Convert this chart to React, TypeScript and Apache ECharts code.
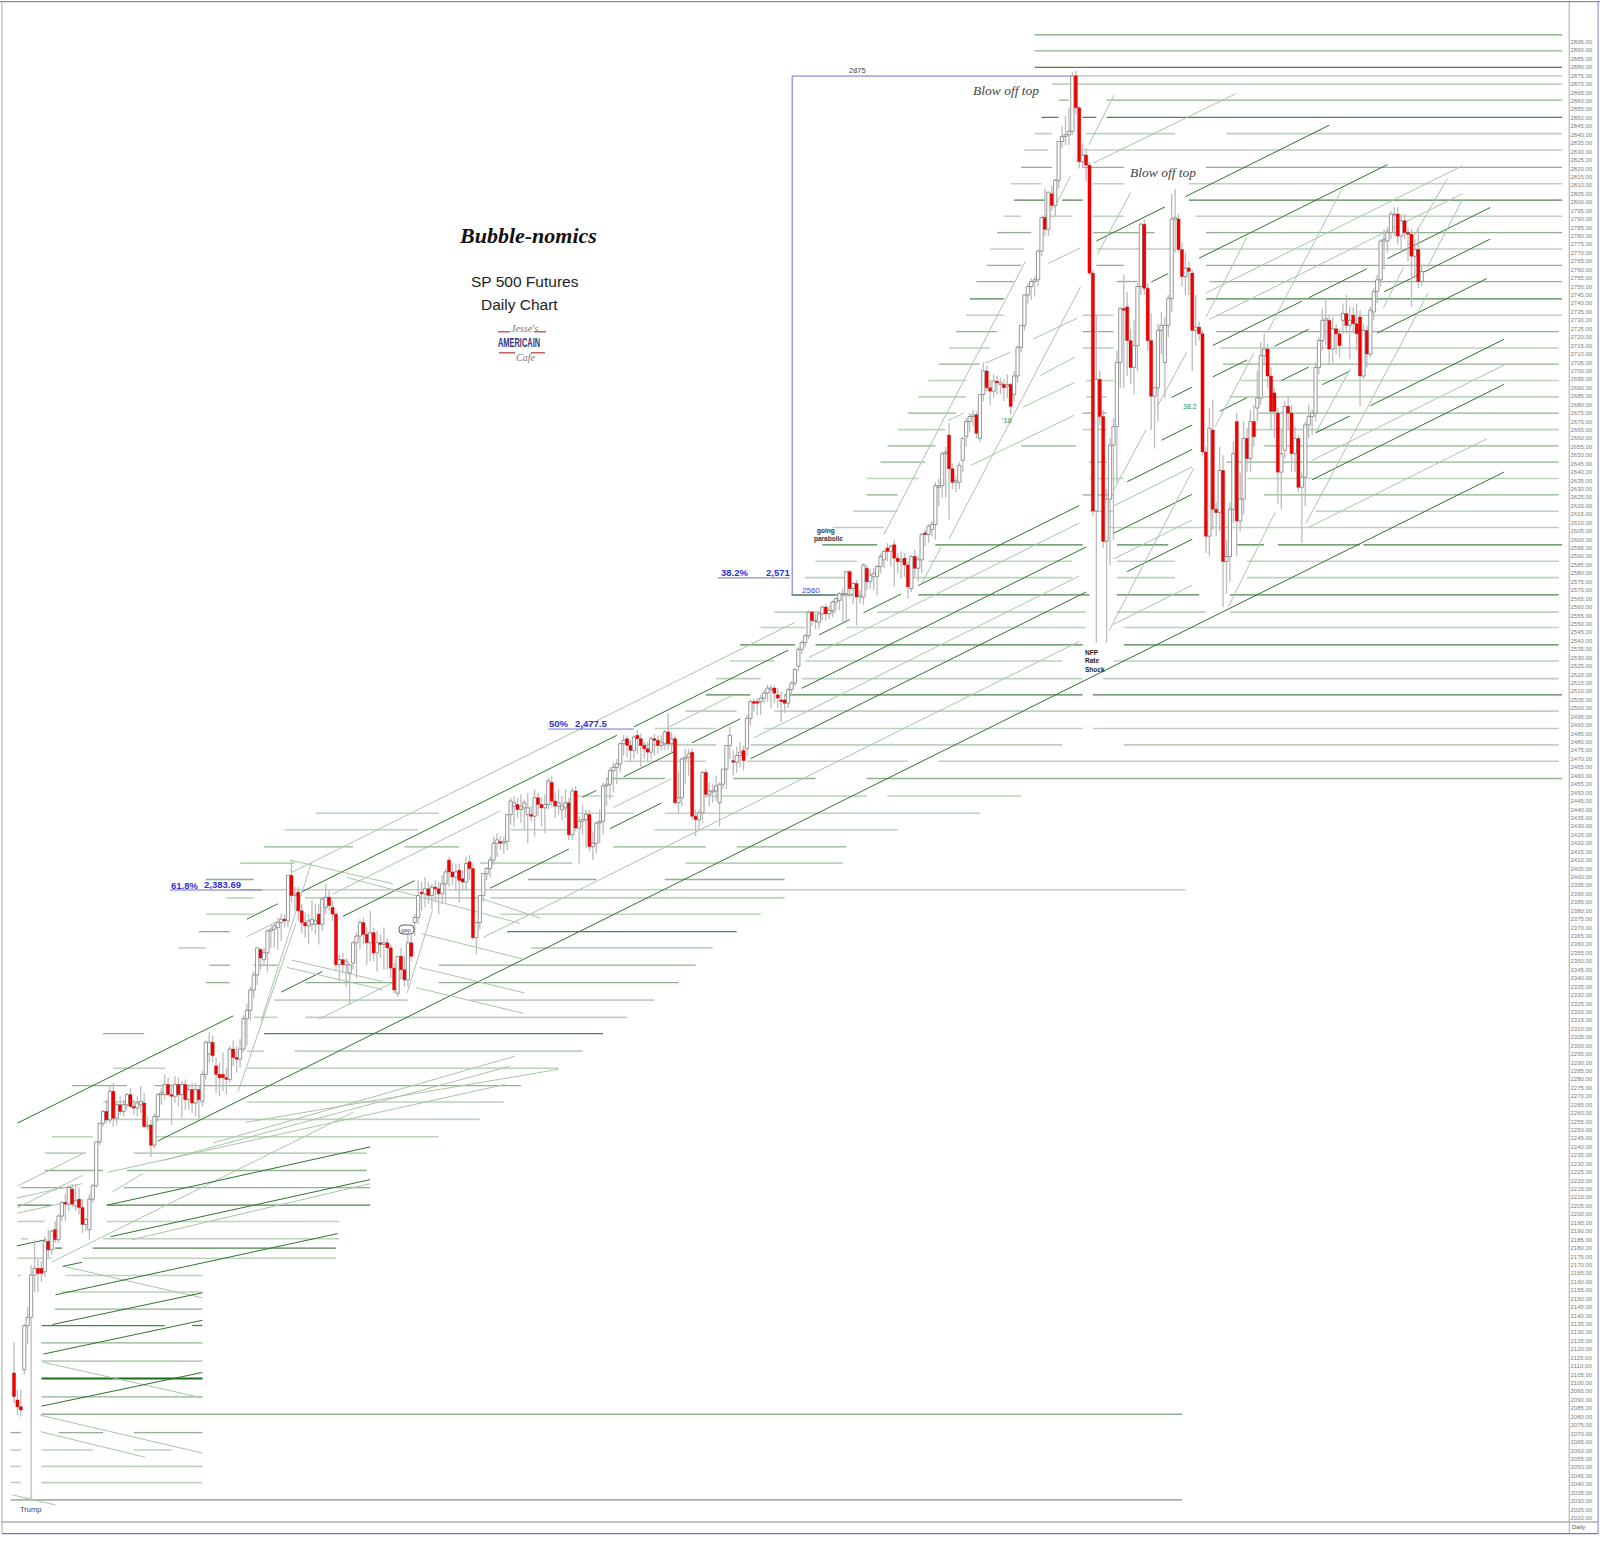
import React, { useEffect, useRef } from "react";
import * as echarts from "echarts";

// Candles: open, high, low, close
const candlesLeg1 = [
[2106,2124,2088,2092],[2090,2096,2081,2086],[2086,2096,2080,2084],[2108,2135,2105,2134],[2134,2145,2123,2139],[2139,2170,2030,2164],[2164,2185,2154,2168],[2168,2174,2154,2165],[2168,2172,2160,2165],[2166,2187,2163,2184],
[2184,2191,2174,2179],[2179,2191,2176,2190],[2191,2196,2183,2185],[2185,2200,2183,2199],[2199,2208,2196,2207],[2207,2212,2196,2206],[2206,2217,2202,2216],[2215,2218,2204,2206],[2205,2218,2202,2208],[2209,2216,2200,2204],
[2204,2209,2189,2194],[2194,2198,2190,2197],[2191,2212,2185,2209],[2209,2218,2207,2217],[2217,2243,2216,2243],[2243,2254,2241,2254],[2254,2262,2252,2261],[2261,2268,2254,2256],[2256,2277,2254,2273],[2273,2278,2252,2257],
[2257,2266,2253,2265],[2265,2270,2259,2261],[2261,2268,2258,2265],[2265,2272,2262,2271],[2271,2275,2263,2264],[2264,2268,2259,2263],[2263,2270,2258,2266],[2265,2276,2260,2267],[2266,2272,2251,2252],[2252,2258,2250,2253],
[2253,2256,2234,2241],[2241,2260,2239,2258],[2258,2272,2255,2271],[2271,2275,2265,2272],[2271,2283,2268,2277],[2277,2281,2270,2271],[2271,2277,2253,2270],[2270,2282,2266,2277],[2277,2281,2264,2271],[2271,2279,2257,2277],
[2277,2280,2262,2268],[2268,2276,2262,2274],[2274,2278,2260,2266],[2266,2278,2258,2274],[2274,2277,2256,2268],[2267,2285,2264,2283],[2283,2303,2280,2302],[2295,2308,2290,2302],[2302,2306,2290,2294],[2288,2293,2272,2283],
[2283,2290,2270,2281],[2283,2296,2273,2281],[2281,2287,2271,2280],[2280,2300,2278,2298],[2298,2303,2288,2293],[2293,2300,2284,2292],[2292,2304,2287,2298],[2298,2318,2296,2316],[2316,2325,2300,2321],[2321,2335,2315,2333],
[2333,2344,2328,2342],[2342,2358,2336,2358],[2357,2358,2345,2352],[2351,2358,2347,2355],[2355,2369,2344,2368],[2368,2372,2358,2369],[2369,2373,2358,2371],[2370,2376,2357,2373],[2373,2378,2362,2375],[2375,2378,2370,2374],
[2374,2401,2370,2401],[2401,2410,2385,2389],[2389,2394,2380,2390],[2391,2394,2374,2380],[2380,2384,2367,2373],[2373,2379,2364,2371],[2371,2378,2360,2374],[2372,2386,2368,2375],[2372,2384,2366,2374],[2378,2384,2360,2372],
[2372,2388,2368,2387],[2382,2396,2378,2388],[2388,2392,2380,2383],[2382,2386,2374,2378],[2378,2380,2345,2348],[2348,2354,2338,2351],[2351,2355,2343,2348],[2348,2352,2335,2350],[2343,2348,2324,2348],[2349,2362,2345,2361],
[2361,2367,2340,2365],[2365,2375,2357,2373],[2373,2376,2360,2366],[2366,2370,2348,2361],[2361,2380,2350,2367],[2367,2370,2350,2355],[2355,2368,2344,2361],[2361,2366,2352,2360],[2360,2370,2345,2361],[2361,2364,2345,2358],
[2358,2360,2340,2346],[2346,2349,2331,2333],[2331,2353,2329,2353],[2353,2358,2340,2345],[2345,2353,2335,2339],[2339,2366,2335,2361],[2361,2366,2350,2353],[2373,2378,2365,2376],[2376,2398,2372,2389],[2391,2397,2380,2390],
];
const candlesLeg2 = [
[2390,2400,2382,2393],[2393,2397,2384,2389],[2389,2396,2381,2394],[2394,2398,2385,2393],[2393,2397,2378,2390],[2390,2401,2384,2396],[2396,2405,2385,2403],[2410,2412,2394,2403],[2403,2408,2395,2400],[2400,2408,2392,2403],
[2404,2408,2385,2398],[2399,2404,2392,2397],[2397,2412,2392,2408],[2409,2413,2398,2405],[2405,2408,2363,2364],[2364,2373,2354,2373],[2373,2389,2369,2389],[2389,2402,2385,2402],[2402,2406,2398,2405],[2405,2412,2400,2410],
[2410,2424,2407,2420],[2420,2426,2412,2422],[2421,2424,2416,2420],[2420,2424,2414,2421],[2421,2437,2416,2437],[2437,2447,2431,2445],[2442,2448,2430,2444],[2443,2447,2435,2440],[2440,2449,2432,2442],[2441,2446,2428,2444],
[2437,2450,2420,2441],[2437,2442,2433,2436],[2436,2452,2424,2447],[2447,2450,2436,2443],[2443,2447,2430,2441],[2441,2449,2426,2443],[2443,2459,2440,2457],[2456,2460,2442,2445],[2445,2450,2435,2442],[2442,2452,2437,2444],
[2440,2448,2434,2442],[2441,2452,2435,2444],[2444,2447,2422,2425],[2425,2453,2422,2451],[2451,2454,2427,2429],[2429,2436,2408,2433],[2433,2443,2425,2434],[2434,2440,2417,2437],[2437,2440,2415,2418],[2418,2427,2410,2420],
[2420,2433,2414,2432],[2432,2440,2420,2433],[2433,2456,2425,2454],[2454,2459,2442,2455],[2455,2465,2446,2463],[2463,2468,2450,2465],[2465,2470,2455,2467],[2467,2480,2462,2479],[2479,2484,2472,2481],[2482,2484,2471,2478],
[2478,2481,2468,2475],[2475,2484,2470,2483],[2484,2487,2473,2482],[2482,2485,2465,2478],[2478,2480,2470,2476],[2476,2480,2469,2474],[2474,2483,2470,2482],[2482,2485,2472,2481],[2481,2484,2473,2478],[2478,2484,2475,2480],
[2479,2487,2475,2486],[2486,2497,2475,2479],[2479,2486,2474,2482],[2482,2484,2443,2444],[2444,2462,2438,2447],[2447,2471,2442,2470],[2470,2476,2455,2471],[2471,2476,2460,2473],[2474,2476,2434,2436],[2436,2440,2424,2434],
[2434,2440,2428,2438],[2438,2463,2432,2462],[2462,2464,2447,2449],[2449,2456,2442,2451],[2451,2455,2444,2451],[2451,2460,2445,2454],[2444,2456,2430,2455],[2455,2464,2452,2464],[2464,2478,2452,2478],[2478,2489,2470,2484],
[2469,2475,2460,2468],[2468,2477,2462,2472],[2472,2480,2465,2474],[2475,2478,2463,2469],[2476,2496,2472,2494],[2494,2505,2490,2504],[2504,2506,2498,2503],[2504,2506,2496,2503],[2504,2508,2496,2506],[2506,2511,2503,2509],
];
const candlesLeg3 = [
[2509,2514,2504,2512],[2511,2514,2500,2512],[2512,2514,2503,2509],[2508,2512,2500,2506],[2505,2510,2492,2504],[2505,2508,2497,2503],[2503,2512,2500,2511],[2511,2516,2508,2515],[2515,2524,2513,2523],[2525,2536,2522,2535],
[2535,2540,2532,2539],[2539,2544,2536,2543],[2543,2558,2541,2557],[2557,2558,2549,2552],[2552,2556,2547,2552],[2551,2557,2547,2556],[2556,2561,2552,2560],[2560,2562,2552,2556],[2556,2561,2553,2558],[2558,2564,2554,2563],
[2563,2566,2558,2565],[2564,2569,2558,2568],[2568,2571,2551,2568],[2568,2581,2552,2581],[2581,2582,2566,2571],[2571,2575,2562,2574],[2574,2576,2549,2566],[2566,2570,2562,2567],[2566,2586,2561,2585],[2583,2585,2570,2575],
[2575,2582,2571,2579],[2578,2583,2570,2580],[2578,2585,2567,2584],[2584,2592,2580,2590],[2588,2594,2583,2593],[2595,2598,2587,2593],[2593,2597,2584,2596],[2597,2600,2572,2589],[2589,2592,2580,2587],[2587,2593,2577,2588],
[2589,2592,2578,2585],[2585,2587,2565,2572],[2571,2591,2569,2590],[2590,2594,2578,2583],[2583,2590,2575,2588],[2588,2604,2580,2603],[2604,2606,2596,2603],[2603,2609,2598,2608],[2606,2611,2602,2609],[2609,2634,2600,2632],
[2631,2636,2620,2632],[2632,2652,2625,2651],[2651,2655,2625,2652],[2662,2669,2612,2642],[2642,2645,2630,2634],[2634,2638,2628,2635],[2634,2646,2630,2644],[2647,2661,2640,2660],[2661,2672,2655,2670],[2670,2675,2664,2673],
[2673,2677,2667,2674],[2674,2676,2660,2663],[2660,2686,2658,2686],[2686,2705,2682,2700],[2700,2703,2688,2690],[2690,2695,2680,2688],[2688,2698,2684,2694],[2694,2697,2686,2693],[2692,2696,2686,2693],[2692,2695,2682,2690],
[2691,2698,2684,2692],[2692,2693,2674,2679],[2686,2700,2682,2697],[2697,2715,2693,2714],[2714,2727,2711,2727],[2727,2745,2724,2745],[2745,2752,2740,2750],[2750,2755,2742,2753],[2753,2756,2744,2754],[2754,2772,2750,2771],
[2771,2791,2768,2791],[2791,2808,2780,2784],[2784,2806,2780,2806],[2805,2810,2795,2798],[2798,2814,2792,2813],[2813,2836,2808,2836],[2836,2845,2832,2839],[2839,2851,2834,2840],[2840,2856,2834,2842],[2842,2877,2840,2875],
];
const candlesLeg4 = [
[2875,2878,2852,2856],[2856,2857,2820,2824],[2824,2835,2820,2828],[2828,2832,2812,2822],[2822,2824,2757,2758],[2758,2760,2614,2617],[2617,2733,2539,2695],[2695,2700,2668,2673],[2673,2677,2595,2599],[2599,2630,2539,2624],
[2624,2660,2585,2656],[2656,2672,2600,2667],[2667,2712,2634,2705],[2705,2738,2690,2737],[2737,2757,2690,2736],[2738,2747,2697,2718],[2718,2725,2692,2702],[2702,2730,2686,2715],[2715,2752,2700,2750],[2750,2788,2745,2787],
[2787,2790,2745,2749],[2749,2752,2712,2718],[2718,2734,2665,2685],[2685,2690,2654,2690],[2690,2728,2670,2724],[2724,2735,2710,2727],[2705,2732,2684,2727],[2727,2745,2720,2743],[2743,2805,2735,2790],[2790,2808,2770,2791],
[2790,2793,2770,2772],[2772,2776,2750,2756],[2756,2770,2745,2761],[2761,2765,2745,2759],[2758,2760,2700,2724],[2724,2745,2715,2726],[2726,2729,2718,2722],[2722,2724,2650,2652],[2652,2655,2592,2602],[2602,2678,2590,2666],
[2665,2683,2606,2618],[2618,2622,2602,2616],[2616,2655,2605,2641],[2641,2650,2560,2587],[2587,2600,2568,2590],[2590,2622,2575,2618],[2618,2658,2610,2651],[2670,2675,2590,2611],[2611,2640,2605,2624],[2624,2670,2615,2660],
[2660,2666,2640,2648],[2648,2677,2640,2670],[2670,2680,2655,2661],[2678,2700,2670,2684],[2684,2717,2680,2709],[2709,2722,2703,2713],[2713,2716,2690,2697],[2697,2702,2665,2676],[2687,2690,2660,2676],[2675,2678,2621,2640],
[2640,2665,2618,2651],[2653,2682,2648,2679],[2679,2685,2665,2675],[2675,2680,2640,2651],[2651,2667,2640,2660],[2660,2662,2628,2631],[2631,2640,2598,2637],[2637,2670,2620,2668],[2668,2680,2660,2673],[2673,2677,2662,2675],
[2675,2705,2670,2702],[2702,2720,2698,2718],[2718,2737,2712,2730],[2730,2743,2715,2731],[2730,2733,2704,2713],[2713,2732,2705,2725],[2725,2728,2710,2722],[2722,2725,2708,2715],[2730,2740,2722,2734],[2734,2745,2722,2727],
[2727,2738,2707,2730],[2733,2738,2722,2728],[2728,2740,2712,2722],[2732,2736,2679,2697],[2697,2728,2695,2724],[2724,2727,2702,2710],[2710,2738,2708,2736],[2735,2749,2730,2747],[2747,2757,2740,2754],[2754,2778,2750,2777],
[2777,2784,2760,2778],[2777,2785,2770,2782],[2782,2795,2778,2793],[2793,2797,2780,2793],[2793,2797,2775,2780],[2780,2793,2770,2789],[2789,2793,2778,2782],[2782,2785,2765,2781],[2781,2784,2738,2768],[2768,2778,2755,2772],
[2772,2785,2749,2753],[2753,2763,2750,2759],
];

// Horizontal levels: price, then from-bar / to-bar pairs
const levelsPale = [
[2875,310,452],[2870,303,452],[2840.7,298,303,313,339,354,452],[2831,295,302,312,452],[2811,291,300,315,324,343,452],[2791.7,289,294,300,309,315,324,345,452],[2772.3,285,295,316,339,346,452],[2733,278,289,312,321,351,452],[2713.6,273,285,312,321,352,451],[2694.3,267,278,313,321,358,451],[2684.6,264,278,313,319,355,451],[2665.2,258,272,312,319,360,451],[2636.2,249,264,314,324,360,451],[2616.8,245,258,314,321,380,451],[2607.2,239,254,318,451],[2587.2,234,246,267,309,322,339,360,451],[2577.5,231,243,261,309,322,339,360,451],[2557,222,240,252,313,322,348,355,451],[2547.9,218,231,243,313,324,451],[2528,209,222,231,306,321,451],[2517.6,205,218,230,312,318,451],[2498.3,196,211,222,451],[2488,187,205,219,312,315,451],[2478.3,182,205,215,306,324,451],[2468.6,178,202,214,261,270,451],[2448,163,175,202,249,255,294],[2437.8,88,124,163,181,190,282],[2428,79,118,145,163,187,258],[2408.2,66,82,136,163,196,242],[2392.4,66,342],[2387.6,62,70,85,136,139,225],[2377.9,56,70,142,218],[2358,48,56,151,204],[2327,76,115,133,187],[2316.8,70,77,85,179],[2296.8,68,73,82,166],[2286.6,29,44,68,159],[2266.6,26,38,68,143],[2256.3,26,38,41,136],[2246,11,23,41,124],[2236.3,9,21,35,103],[2195.8,1,9,27,95],[2185.5,2,4,26,95],[2174,1,11,20,94],[2163.8,1,2,15,55],[2154,14,55],[2113,8,55],[2060.3,-1,2,8,23,35,46],[2050.6,-1,2,8,55],[2041,-1,2,8,55],
];
const levelsMid = [
[2899.3,298,452],[2889.7,298,452],[2860.6,305,308,319,452],[2820.7,294,303,312,324,348,452],[2782,287,297,315,333,348,452],[2762.6,284,294,316,324,348,452],[2753,281,292,322,328,349,452],[2723.3,275,287,312,321,351,451],[2704,270,282,353,451],[2675,261,275,312,319,363,451],[2655.6,255,269,294,310,365,451],[2645.9,253,266,314,319,354,451],[2626.5,249,258,312,321,365,451],[2458.4,173,190,210,234,249,452],[2417.8,73,99,114,130,175,202,211,243],[2398.5,56,70,150,170,190,225],[2347.7,57,63,70,77,124,199],[2337.4,56,63,85,112,124,194],[2276.3,17,33,41,148],[2226,9,26,33,103],[2215.8,2,17,32,104],[2143.8,12,55],[2123.8,8,55],[2091.8,8,55],[2081.5,8,341],[2070.6,-1,2,13,26,35,55],[2367.6,54,63],[2307.1,26,38],
];
const levelsDark = [
[2880,298,452],[2850.3,300,305,312,316,319,452],[2801.3,292,301,306,312,343,452],[2742.7,279,289,348,452],[2596.9,236,252,269,312,322,337,357,365,369,393,394,452],[2567.2,227,245,264,314,322,346,355,451],[2537.6,212,228,234,312,324,451],[2508,202,215,225,312,315,452],[2367.6,144,167,167,211],[2307.1,73,172],[2205.5,1,11,27,104],[2180,12,14,23,94],[2134.1,8,44,52,55],
];
const levelsHeavy = [[2102.7,8,55]];
const levelsGrey = [[2030.7,-1,341]];

// Sloped channels: price at bar 0, then from-bar / to-bar pairs
const channelRise = 1.009; // points per bar
const channelsPale = [
[2395,348,423],[2378.4,349,423],[2320.9,81,228],[2296,68,77,93,142,191,210,232,311,321,344],[2264.6,175,192,216,311,321,344,379,435],[2225.9,89,115,137,311,321,344,378,430],[2215.7,1,20],[2202.9,1,20],[2160.6,11,99],
];
const channelsDark = [
[2458.2,316,336,342,384],[2417.7,332,337,346,401],[2362,350,376,378,395,401,431],[2343.3,338,344,350,360,368,378,400,431],[2320.9,335,344,352,360,370,378,398,430],[2306.4,68,77,84,176,181,226,235,244,248,259,264,311,325,344,382,390],[2279.8,96,117,166,170,178,193,198,212,230,313,321,344,380,390,396,435],[2253.1,1,64,78,90,139,162,174,189,215,313,325,344,379,435],[2201.1,42,435],
];

// Other trend lines: from-bar, from-price, to-bar, to-price
const steepPale = [
[254,2603,295.3,2765],[273,2600.5,311.4,2750],[265,2573.9,270.7,2595.7],[319.7,2546,344.4,2642.2],[313.8,2834,321.2,2863.6],[316.2,2768.7,326,2805.6],[321,2629,330.5,2665.2],[333.7,2678.5,342.4,2711.2],[303.7,2796.5,308.4,2815.2],[348,2731.8,359.9,2779],[365.9,2722.7,387.6,2807.4],[354.5,2560,368.2,2616.2],[350.7,2667,362,2710.6],[377.2,2609.6,412.9,2746.3],[380.1,2663.4,390.2,2701.5],[399.8,2737.2,405.7,2761.4],[412.6,2761.4,423,2802],[407.2,2774.7,418.5,2814],[65.4,2272.6,82.3,2372.5],[114.8,2331.3,122.2,2380.3],[72.2,2315,86.8,2408.2],
];
const fallingPale = [
[80.6,2410,110.6,2396],[81.1,2350.7,107.6,2338],[79.7,2346.4,107.6,2333.2],[117.4,2334.4,148.7,2319.2],[118.3,2346.4,149,2331.3],[97.2,2399.7,147.8,2372.5],[119,2366.4,148.7,2351.3],[135.9,2387.6,153.7,2375.5],[14.5,2169.2,55,2150.5],[8.6,2112.3,55,2091.2],[7.7,2080.9,55,2058.5],[7.7,2071.2,38.3,2056],[-0.4,2033.7,12.1,2027.7],
];
const risingPale = [
[34.4,2185,104,2218.2],[27.3,2224.9,143.3,2277],[43.7,2232,144.8,2287.8],[67.5,2254.5,159,2286],[58.2,2242.4,146.3,2293.8],[0.8,2209.7,19.9,2218.2],[0.8,2200.7,17.5,2208],[28.8,2213.4,37.7,2224.3],
[315,2823.1,356.6,2864.2],[302,2763.8,311.3,2772.9],[297.6,2719,310.4,2731.2],[299.7,2697.3,309.8,2708.2],[294.6,2678.5,309.5,2693],[279.4,2644,309.5,2673.7],[283.6,2704.6,291,2711.2],[272.8,2670.7,277.3,2675],
];
const risingDark = [
[27.3,2205.5,104,2240],[28.2,2186.8,104,2220.6],[12.1,2152.3,94.5,2188.6],[11.2,2134.7,55,2153.5],[8.6,2117.2,55,2137.2],[8,2086.3,55,2106.3],[0.8,2181.3,9.4,2185],[14.2,2169.2,19.9,2171.6],
];
const boxAndFibLines = [
[227.2,2874.8,308.7,2874.8],[227.2,2874.8,227.2,2567],[227.2,2567,239.7,2567],[45.5,2392.3,72.4,2392.3],[156,2487.7,181,2487.7],[205.5,2577.3,226.6,2577.3],
];

const axisFirst = 2020;
const axisLast = 2915;
const lastLabel = 2895;
const axisStep = 5;

const candles = [...candlesLeg1, ...candlesLeg2, ...candlesLeg3, ...candlesLeg4];
const levelSegs = (rows: number[][]) =>
  rows.flatMap((r) => {
    const out: number[][] = [];
    for (let k = 1; k + 1 < r.length; k += 2) out.push([r[k], r[0], r[k + 1], r[0]]);
    return out;
  });
const channelSegs = (rows: number[][]) =>
  rows.flatMap((r) => {
    const out: number[][] = [];
    for (let k = 1; k + 1 < r.length; k += 2)
      out.push([r[k], r[0] + channelRise * r[k], r[k + 1], r[0] + channelRise * r[k + 1]]);
    return out;
  });

const lineSeries = (name: string, data: number[][], stroke: string, lineWidth: number) => ({
  type: "custom",
  name,
  silent: true,
  clip: true,
  data,
  encode: { x: [0, 2], y: [1, 3] },
  renderItem: (_p: any, api: any) => {
    const a = api.coord([api.value(0), api.value(1)]);
    const b = api.coord([api.value(2), api.value(3)]);
    return { type: "line", shape: { x1: a[0], y1: a[1], x2: b[0], y2: b[1] }, style: { stroke, lineWidth } };
  },
});

const txt = (x: number, y: number, text: string, font: string, fill: string, extra: any = {}) => ({
  type: "text",
  x,
  y,
  z: 50,
  silent: true,
  style: { text, font, fill, textVerticalAlign: "middle" },
  ...extra,
});
const frame = (x: number, y: number, width: number, height: number, fill: string) => ({
  type: "rect",
  z: 40,
  silent: true,
  shape: { x, y, width, height },
  style: { fill },
});

export default function App() {
  const ref = useRef<HTMLDivElement>(null);
  useEffect(() => {
    if (!ref.current) return;
    const chart = echarts.init(ref.current, undefined, { renderer: "svg" });
    const sans = '"Liberation Sans", Arial, sans-serif';
    chart.setOption({
      animation: false,
      backgroundColor: "#ffffff",
      grid: { left: 2, top: 8.26, width: 1567, height: 1509.74, containLabel: false },
      xAxis: { type: "value", show: false, min: -3.504, max: 454, splitLine: { show: false } },
      yAxis: {
        type: "value",
        position: "right",
        min: axisFirst,
        max: axisLast,
        interval: axisStep,
        splitLine: { show: false },
        axisLine: { show: false },
        axisTick: { show: false },
        axisLabel: {
          show: true,
          margin: 1.5,
          align: "left",
          fontSize: 6,
          color: "#808080",
          fontFamily: "Liberation Sans",
          formatter: (v: number) => (v > lastLabel ? "" : v.toFixed(2)),
        },
      },
      series: [
        lineSeries("levels pale", levelSegs(levelsPale), "#bdd1bd", 1.6),
        lineSeries("levels mid", levelSegs(levelsMid), "#8fb38f", 1.3),
        lineSeries("levels dark", levelSegs(levelsDark), "#4a844a", 1.3),
        lineSeries("levels heavy", levelSegs(levelsHeavy), "#1c6a1c", 1.8),
        lineSeries("levels grey", levelSegs(levelsGrey), "#667a66", 1),
        lineSeries("channels pale", channelSegs(channelsPale), "#a9c5a9", 1),
        lineSeries("channels dark", channelSegs(channelsDark), "#2d752d", 1),
        lineSeries("steep", steepPale, "#a9c5a9", 1),
        lineSeries("falling", fallingPale, "#a9c5a9", 1),
        lineSeries("rising pale", risingPale, "#a9c5a9", 1),
        lineSeries("rising dark", risingDark, "#2d752d", 1),
        lineSeries("box and fib", boxAndFibLines, "#7272cc", 1),
        {
          type: "custom",
          name: "candles",
          silent: true,
          clip: true,
          data: candles.map((c, i) => [i, c[0], c[1], c[2], c[3]]),
          encode: { x: 0, y: [1, 2, 3, 4] },
          renderItem: (_p: any, api: any) => {
            const i = api.value(0);
            const o = api.value(1);
            const h = api.value(2);
            const l = api.value(3);
            const c = api.value(4);
            const hi = api.coord([i, h]);
            const lo = api.coord([i, l]);
            const a = api.coord([i, Math.max(o, c)]);
            const b = api.coord([i, Math.min(o, c)]);
            const up = c >= o;
            const w = 3.2;
            return {
              type: "group",
              children: [
                {
                  type: "line",
                  shape: { x1: hi[0], y1: hi[1], x2: lo[0], y2: lo[1] },
                  style: { stroke: "#bcbcbc", lineWidth: 1.3 },
                },
                {
                  type: "rect",
                  shape: { x: a[0] - w / 2, y: a[1], width: w, height: Math.max(b[1] - a[1], 1) },
                  style: up
                    ? { fill: "#ffffff", stroke: "#7c7c7c", lineWidth: 0.8 }
                    : { fill: "#f40000", stroke: "#a00000", lineWidth: 0.3 },
                },
              ],
            };
          },
        },
      ],
      graphic: {
        elements: [
          frame(0, 1, 1600, 1.2, "#8a8a8a"),
          frame(1.5, 1, 1, 1532, "#a8a8a8"),
          frame(2, 1521.5, 1596, 1, "#8a8a8a"),
          frame(2, 1533, 1596, 1.2, "#6f74d8"),
          frame(1597.5, 1, 1.2, 1533, "#8f94dc"),
          frame(1568.7, 2, 1, 1531, "#a8a8a8"),
          txt(460, 235, "Bubble-nomics", 'italic bold 22px "Liberation Serif", serif', "#111111"),
          txt(471, 281, "SP 500 Futures", `15.5px ${sans}`, "#222222"),
          txt(481, 304, "Daily Chart", `15.5px ${sans}`, "#222222"),
          txt(511, 328, "Jesse's", 'italic 10px "Liberation Serif", serif', "#777777"),
          frame(498, 331, 12, 1.5, "#c86060"),
          frame(534, 331, 12, 1.5, "#c86060"),
          txt(498, 343, "AMERICAIN", 'bold 12px "Liberation Sans", sans-serif', "#34347a", { scaleX: 0.62 }),
          frame(499, 352, 16, 1.5, "#c86060"),
          frame(531, 352, 14, 1.5, "#c86060"),
          txt(516, 357, "Cafe", 'italic 10px "Liberation Serif", serif', "#777777"),
          txt(973, 90, "Blow off top", 'italic 13.5px "Liberation Serif", serif', "#444444"),
          txt(1130, 172, "Blow off top", 'italic 13.5px "Liberation Serif", serif', "#444444"),
          txt(849, 70.5, "2875", `7.5px ${sans}`, "#444444"),
          txt(802, 590, "2560", `8px ${sans}`, "#4040e0"),
          txt(721, 572.5, "38.2%", `bold 9.5px ${sans}`, "#3030e0"),
          txt(766, 572, "2,571", `bold 9.5px ${sans}`, "#3030e0"),
          txt(549, 723, "50%", `bold 9.5px ${sans}`, "#3030e0"),
          txt(575, 723, "2,477.5", `bold 9.5px ${sans}`, "#3030e0"),
          txt(171, 885, "61.8%", `bold 9.5px ${sans}`, "#3030e0"),
          txt(204, 884, "2,383.69", `bold 9.5px ${sans}`, "#3030e0"),
          txt(817, 530, "going", `bold 6.5px ${sans}`, "#333333"),
          txt(814, 538, "parabolic", `bold 6.5px ${sans}`, "#333333"),
          txt(1002, 420, "'18", `7.5px ${sans}`, "#2f8f4f"),
          txt(1183, 406, "38.2", `7px ${sans}`, "#2f8f4f"),
          txt(1085, 652, "NFP", `bold 6.5px ${sans}`, "#222222"),
          txt(1085, 660, "Rate", `bold 6.5px ${sans}`, "#222222"),
          txt(1085, 669, "Shock", `bold 6.5px ${sans}`, "#222222"),
          txt(20, 1509, "Trump", `7.5px ${sans}`, "#444444"),
          {
            type: "rect",
            z: 45,
            silent: true,
            shape: { x: 399, y: 925, width: 15, height: 9, r: 4 },
            style: { fill: "#ffffff", stroke: "#333333", lineWidth: 0.8 },
          },
          txt(401, 929.5, "gap", `6px ${sans}`, "#555588"),
          txt(1572, 1527, "Daily", `6px ${sans}`, "#555555"),
        ],
      },
    });
    return () => chart.dispose();
  }, []);
  return <div ref={ref} style={{ position: "absolute", left: 0, top: 0, width: 1600, height: 1544 }} />;
}
